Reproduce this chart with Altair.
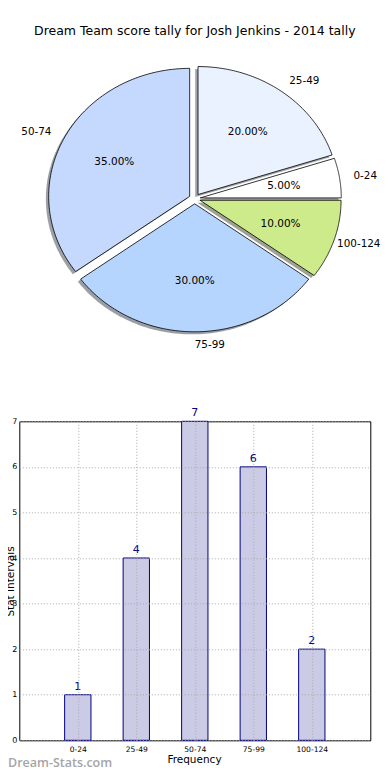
import json
import altair as alt
import pandas as pd

# ---------------- data ----------------
labels = ["0-24", "25-49", "50-74", "75-99", "100-124"]
counts = [1, 4, 7, 6, 2]
slice_colors = ["#ffffff", "#eaf2ff", "#c5d9ff", "#b5d5ff", "#cdeb8b"]
watermark = ["Dream-Stats.com"]
TITLE = "Dream Team score tally for Josh Jenkins - 2014 tally"

# ---------------- style / layout ----------------
FONT = "DejaVu Sans"
N = 90          # points per arc outline
E = 0.04        # explode distance (pie radius units)
SX, SY = -0.02, -0.02   # shadow offset (pie radius units)
BAR_W = 0.45
LAB_FS = 10.4
X_RIGHT = 1.3213      # right edge of the drawing in pie units (keeps labels inside)
CHAR_W = 0.0445       # approx. label character width in pie units


def darker(hexc, f=0.3):
    r, g, b = (int(hexc[k:k + 2], 16) for k in (1, 3, 5))
    return "#%02x%02x%02x" % (round(r * f), round(g * f), round(b * f))


shadow_colors = [darker(c) for c in slice_colors]

pie_df = pd.DataFrame({"label": labels, "count": counts, "i": list(range(len(labels)))})
bar_df = pd.DataFrame({"label": labels, "count": counts, "idx": list(range(len(labels)))})

pie_x = alt.Scale(domain=[-1.2440, 1.2454], nice=False, zero=False)
pie_y = alt.Scale(domain=[-4.2313, -1.7391], nice=False, zero=False)

base = (
    alt.Chart(pie_df)
    .transform_joinaggregate(total="sum(count)")
    .transform_window(cum="sum(count)", sort=[alt.SortField("i")], frame=[None, 0])
    .transform_calculate(a0="2*PI*(datum.cum - datum.count)/datum.total")
    .transform_calculate(a1="2*PI*datum.cum/datum.total")
    .transform_calculate(mid="(datum.a0 + datum.a1)/2")
    .transform_calculate(ex=f"{E}*cos(datum.mid)")
    .transform_calculate(ey=f"{E}*sin(datum.mid)")
)

poly = (
    base.transform_calculate(pts=f"sequence(0, {N + 2})")
    .transform_flatten(["pts"], as_=["k"])
    .transform_calculate(t=f"datum.a0 + (datum.a1 - datum.a0)*(datum.k - 1)/{N - 1}")
    .transform_calculate(on_arc=f"datum.k >= 1 && datum.k <= {N}")
    .transform_calculate(px="datum.ex + (datum.on_arc ? cos(datum.t) : 0)")
    .transform_calculate(py="datum.ey + (datum.on_arc ? sin(datum.t) : 0)")
)

shadow = (
    poly.transform_calculate(sx=f"datum.px + ({SX})")
    .transform_calculate(sy=f"datum.py + ({SY})")
    .mark_line(strokeOpacity=0, fillOpacity=0.5)
    .encode(
        x=alt.X("sx:Q", scale=pie_x, axis=None),
        y=alt.Y("sy:Q", scale=pie_y, axis=None),
        fill=alt.Fill("label:N", scale=alt.Scale(domain=labels, range=shadow_colors), legend=None),
        order=alt.Order("k:Q"),
        detail="label:N",
    )
)

slices = poly.mark_line(stroke="black", strokeWidth=0.8, strokeJoin="miter", fillOpacity=1).encode(
    x=alt.X("px:Q", scale=pie_x, axis=None),
    y=alt.Y("py:Q", scale=pie_y, axis=None),
    fill=alt.Fill("label:N", scale=alt.Scale(domain=labels, range=slice_colors), legend=None),
    order=alt.Order("k:Q"),
    detail="label:N",
)

pct = (
    base.transform_calculate(tx="datum.ex + 0.6*cos(datum.mid)")
    .transform_calculate(ty="datum.ey + 0.6*sin(datum.mid)")
    .transform_calculate(txt="format(100*datum.count/datum.total, '.2f') + '%'")
    .mark_text(font=FONT, fontSize=10.5, color="black", align="center", baseline="middle")
    .encode(
        x=alt.X("tx:Q", scale=pie_x, axis=None),
        y=alt.Y("ty:Q", scale=pie_y, axis=None),
        text="txt:N",
    )
)

lab = (
    base.transform_calculate(lx0="datum.ex + 1.1*cos(datum.mid)")
    .transform_calculate(ly="datum.ey + 1.1*sin(datum.mid)")
    .transform_calculate(c="cos(datum.mid)")
    .transform_calculate(lx=f"min(datum.lx0, {X_RIGHT} - length(datum.label)*{CHAR_W})")
)
lab_enc = dict(
    y=alt.Y("ly:Q", scale=pie_y, axis=None),
    text="label:N",
)
lab_left = lab.transform_filter("datum.c > -1e-6").mark_text(
    font=FONT, fontSize=LAB_FS, color="black", align="left", baseline="middle"
).encode(x=alt.X("lx:Q", scale=pie_x, axis=None), **lab_enc)
lab_right = lab.transform_filter("datum.c <= -1e-6").mark_text(
    font=FONT, fontSize=LAB_FS, color="black", align="right", baseline="middle"
).encode(x=alt.X("lx0:Q", scale=pie_x, axis=None), **lab_enc)

pie = alt.layer(shadow, slices, pct, lab_left, lab_right).resolve_scale(fill="independent")

# ---------------- bar chart ----------------
bx = alt.Scale(domain=[-1, 5], nice=False, zero=False)
by = alt.Scale(domain=[0, 7], nice=False)

grid_style = dict(grid=True, gridColor="#a8a8a8", gridDash=[1, 2], gridWidth=1)

x_axis = alt.Axis(
    orient="bottom",
    values=list(range(len(labels))),
    labelExpr=json.dumps(labels) + "[datum.value]",
    ticks=False,
    tickSize=0,
    domain=False,
    labelFont=FONT,
    labelFontSize=7.6,
    labelColor="black",
    labelPadding=5,
    labelFlush=False,
    title="Frequency",
    titleFont=FONT,
    titleFontSize=10.5,
    titleFontWeight="normal",
    titleColor="black",
    titleBaseline="alphabetic",
    titleX=174.7,
    titleY=22.7,
    zindex=1,
    **grid_style,
)
y_axis = alt.Axis(
    orient="left",
    values=list(range(8)),
    ticks=False,
    tickSize=0,
    domain=False,
    labelFont=FONT,
    labelFontSize=8,
    labelColor="black",
    labelPadding=2.5,
    labelFlush=False,
    title="Stat Intervals",
    titleFont=FONT,
    titleFontSize=10.5,
    titleFontWeight="normal",
    titleColor="black",
    titleAngle=270,
    titleAlign="center",
    titleBaseline="alphabetic",
    titleX=-5.8,
    titleY=159.7,
    zindex=1,
    **grid_style,
)

bars = (
    alt.Chart(bar_df)
    .transform_calculate(x0=f"datum.idx - {BAR_W / 2}")
    .transform_calculate(x1=f"datum.idx + {BAR_W / 2}")
    .mark_bar(fill="#cbcbe5", stroke="#000080", strokeWidth=1)
    .encode(
        x=alt.X("x0:Q", scale=bx, axis=x_axis),
        x2="x1:Q",
        y=alt.Y("count:Q", scale=by, axis=y_axis),
        y2=alt.Y2Datum(0),
    )
)

bar_text = (
    alt.Chart(bar_df)
    .mark_text(font=FONT, fontSize=11, color="#000080", align="center", baseline="alphabetic", dy=-5)
    .encode(
        x=alt.X("idx:Q", scale=bx),
        y=alt.Y("count:Q", scale=by),
        text="count:Q",
    )
)

bar_layer = alt.layer(bars, bar_text)

wm = (
    alt.Chart(pd.DataFrame({"t": watermark}))
    .mark_text(font="Open Sans", fontWeight=600, fontSize=12.5, color="#a5a5a5",
               align="left", baseline="alphabetic")
    .encode(x=alt.value(-11.3), y=alt.value(346), text="t:N")
)

chart = (
    alt.layer(bar_layer, pie, wm)
    .resolve_scale(x="independent", y="independent")
    .properties(
        width=351,
        height=319,
        autosize="none",
        padding={"left": 11.3, "top": 413.3, "right": 11.2, "bottom": 31},
        title=alt.TitleParams(
            TITLE, font=FONT, fontSize=12.5, fontWeight="normal", color="black",
            anchor="middle", offset=17, baseline="alphabetic",
        ),
    )
    .configure(font=FONT)
    .configure_view(stroke="black", strokeWidth=1)
)

chart.save("out.html", embed_options={"renderer": "svg", "actions": False})
